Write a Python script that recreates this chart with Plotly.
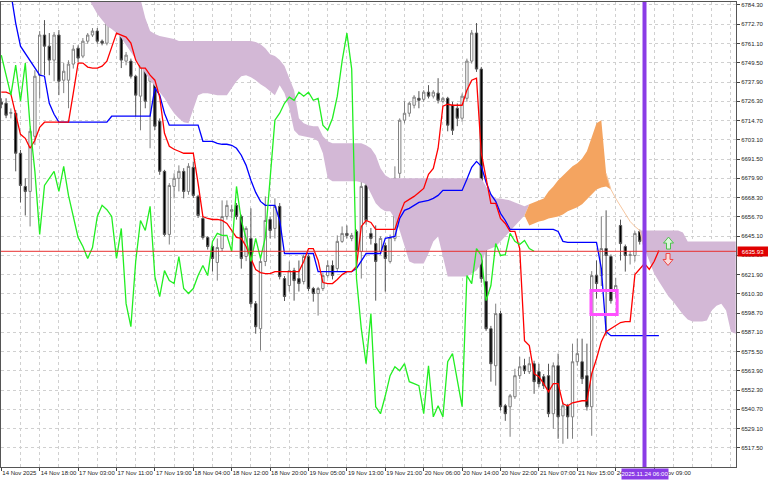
import plotly.graph_objects as go

# ---------------- data ----------------
bars = list(range(138))

opens = [6725.7, 6725.1, 6719.0, 6719.1, 6695.0, 6675.0, 6672.0, 6705.2, 6742.0, 6766.2,
         6759.5, 6751.1, 6766.2, 6739.0, 6739.0, 6748.7, 6758.3, 6753.5, 6762.5, 6766.2,
         6768.6, 6762.5, 6761.3, 6774.6, 6781.3, 6769.2, 6750.5, 6750.5, 6741.4, 6729.4,
         6745.0, 6738.4, 6749.3, 6714.3, 6684.1, 6646.1, 6675.0, 6679.9, 6684.1, 6672.0,
         6686.5, 6669.0, 6655.7, 6644.3, 6638.8, 6629.2, 6637.6, 6656.9, 6660.0, 6663.6,
         6656.9, 6632.8, 6643.7, 6604.4, 6589.3, 6629.8, 6655.1, 6649.7, 6663.0, 6619.5,
         6615.3, 6624.3, 6619.5, 6617.7, 6632.8, 6613.5, 6610.5, 6613.5, 6621.3, 6627.4,
         6625.6, 6641.9, 6646.7, 6643.7, 6647.9, 6635.8, 6675.6, 6646.7, 6640.6, 6635.8,
         6639.4, 6629.8, 6643.7, 6682.9, 6714.9, 6719.1, 6723.9, 6728.1, 6727.5, 6731.8,
         6729.4, 6731.2, 6726.3, 6728.1, 6723.9, 6722.1, 6716.1, 6728.1, 6750.5, 6767.4,
         6745.7, 6617.7, 6589.3, 6567.0, 6598.4, 6542.9, 6542.3, 6548.3, 6561.0, 6567.0,
         6563.4, 6568.2, 6563.4, 6560.4, 6561.0, 6538.1, 6567.0, 6536.8, 6542.9, 6536.2,
         6569.4, 6569.4, 6561.0, 6542.3, 6621.3, 6621.3, 6637.6, 6632.8, 6611.7, 6651.5,
         6638.8, 6633.4, 6633.4, 6647.9, 6641.9, 6633.4, 6642.5, 6637.0]

highs = [6728.1, 6728.1, 6722.0, 6721.0, 6697.0, 6679.9, 6710.0, 6745.0, 6768.6, 6775.2,
         6767.4, 6768.0, 6769.2, 6749.3, 6751.0, 6760.1, 6760.0, 6764.4, 6767.4, 6770.4,
         6770.4, 6763.5, 6776.0, 6783.7, 6784.0, 6770.0, 6756.0, 6752.0, 6742.0, 6755.3,
         6746.0, 6751.0, 6751.0, 6716.0, 6685.0, 6677.0, 6682.9, 6687.7, 6686.0, 6689.0,
         6690.0, 6670.0, 6657.0, 6645.0, 6640.0, 6643.7, 6666.6, 6666.6, 6664.0, 6665.0,
         6658.0, 6651.0, 6661.8, 6606.0, 6632.0, 6669.0, 6657.0, 6667.8, 6665.0, 6621.0,
         6629.8, 6626.0, 6630.4, 6634.0, 6634.0, 6614.5, 6614.5, 6623.0, 6630.4, 6630.4,
         6645.5, 6650.9, 6651.5, 6647.0, 6649.0, 6691.9, 6691.9, 6650.0, 6651.5, 6645.0,
         6641.0, 6646.0, 6687.1, 6716.0, 6726.3, 6726.0, 6730.0, 6732.4, 6733.0, 6736.0,
         6733.0, 6740.2, 6729.0, 6729.0, 6726.0, 6725.0, 6731.0, 6752.0, 6769.2, 6773.4,
         6747.0, 6640.6, 6591.0, 6604.4, 6600.0, 6544.0, 6550.0, 6565.2, 6572.4, 6571.2,
         6572.4, 6570.0, 6568.2, 6562.0, 6568.2, 6569.0, 6574.3, 6545.0, 6544.0, 6580.3,
         6583.3, 6583.3, 6580.3, 6624.0, 6630.4, 6656.9, 6660.6, 6634.0, 6620.0, 6655.0,
         6640.0, 6636.0, 6648.0, 6649.0, 6644.0, 6644.9, 6644.0, 6638.5]

lows = [6722.1, 6716.1, 6716.0, 6684.1, 6665.4, 6657.5, 6650.9, 6700.0, 6728.1, 6742.0,
        6742.0, 6738.4, 6730.0, 6731.2, 6722.1, 6746.0, 6749.9, 6752.3, 6761.0, 6765.0,
        6761.0, 6760.0, 6760.0, 6773.0, 6768.0, 6746.3, 6748.0, 6740.0, 6717.3, 6708.8,
        6722.1, 6698.0, 6709.0, 6682.0, 6645.0, 6640.0, 6667.8, 6672.0, 6667.8, 6670.0,
        6668.0, 6656.0, 6643.0, 6637.0, 6623.7, 6618.3, 6636.0, 6655.0, 6656.0, 6655.0,
        6625.5, 6630.0, 6602.0, 6586.3, 6576.1, 6627.0, 6643.7, 6643.7, 6619.0, 6606.0,
        6611.7, 6606.2, 6611.7, 6616.0, 6612.0, 6605.6, 6597.2, 6612.0, 6620.0, 6619.0,
        6624.0, 6641.0, 6643.7, 6642.0, 6628.6, 6619.5, 6652.0, 6640.0, 6606.2, 6634.0,
        6611.7, 6628.6, 6642.0, 6680.0, 6713.0, 6717.0, 6722.0, 6722.1, 6726.0, 6728.0,
        6728.0, 6725.0, 6725.0, 6708.2, 6706.0, 6711.3, 6714.0, 6726.0, 6749.0, 6744.0,
        6617.0, 6588.0, 6557.4, 6555.0, 6540.0, 6533.8, 6524.2, 6547.0, 6559.0, 6562.0,
        6562.0, 6550.1, 6554.0, 6553.0, 6536.0, 6529.0, 6523.0, 6520.0, 6523.0, 6523.0,
        6567.0, 6556.0, 6540.0, 6524.8, 6607.5, 6615.0, 6585.1, 6604.4, 6608.0, 6630.4,
        6623.7, 6628.0, 6629.8, 6640.0, 6636.0, 6632.0, 6636.0, 6635.0]

closes = [6724.5, 6717.9, 6719.5, 6695.0, 6675.6, 6672.0, 6708.2, 6741.4, 6766.2, 6759.5,
          6751.1, 6766.2, 6738.4, 6744.4, 6748.7, 6757.7, 6752.3, 6762.5, 6766.2, 6768.6,
          6762.5, 6761.3, 6774.6, 6780.7, 6769.2, 6751.1, 6754.1, 6741.4, 6730.0, 6748.1,
          6726.3, 6749.3, 6711.3, 6684.1, 6646.1, 6675.6, 6679.9, 6684.1, 6672.0, 6687.1,
          6669.6, 6657.5, 6644.3, 6638.8, 6631.6, 6638.2, 6656.9, 6663.6, 6661.0, 6656.9,
          6631.6, 6649.7, 6604.4, 6590.5, 6629.8, 6654.5, 6648.5, 6663.0, 6620.7, 6608.7,
          6624.3, 6618.3, 6616.5, 6632.8, 6613.5, 6610.5, 6613.5, 6621.3, 6627.4, 6621.3,
          6641.9, 6646.7, 6645.5, 6645.5, 6635.8, 6675.0, 6654.5, 6643.7, 6629.8, 6643.7,
          6631.6, 6644.3, 6679.9, 6714.9, 6719.1, 6725.1, 6728.8, 6726.9, 6731.8, 6729.4,
          6731.8, 6726.9, 6728.1, 6711.9, 6708.8, 6716.1, 6729.4, 6750.5, 6767.4, 6745.7,
          6619.5, 6589.3, 6568.2, 6598.4, 6542.3, 6538.1, 6548.9, 6561.0, 6566.4, 6564.0,
          6568.2, 6557.4, 6556.2, 6555.0, 6538.1, 6567.0, 6536.2, 6542.9, 6536.2, 6569.4,
          6574.3, 6559.2, 6542.3, 6621.3, 6616.5, 6637.6, 6633.4, 6606.2, 6615.3, 6640.6,
          6633.4, 6633.9, 6646.7, 6641.9, 6640.0, 6642.5, 6637.6, 6635.93]

tenkan = [6731.8, 6731.8, 6730.6, 6718.5, 6706.4, 6704.0, 6698.0, 6702.8, 6710.6, 6713.7,
          6713.7, 6713.7, 6713.7, 6713.7, 6713.7, 6731.2, 6749.3, 6749.3, 6746.9, 6746.3,
          6746.3, 6747.5, 6750.5, 6758.9, 6767.4, 6766.2, 6765.0, 6761.3, 6751.1, 6746.3,
          6746.3, 6742.0, 6739.0, 6728.8, 6707.0, 6699.2, 6697.4, 6696.2, 6695.0, 6695.0,
          6695.0, 6676.9, 6656.9, 6655.7, 6655.1, 6655.1, 6654.5, 6652.7, 6648.5, 6644.3,
          6643.7, 6638.8, 6631.6, 6625.0, 6623.1, 6622.5, 6622.5, 6623.7, 6623.7, 6623.7,
          6623.7, 6623.7, 6623.7, 6629.8, 6637.6, 6637.6, 6630.4, 6617.1, 6616.5, 6616.5,
          6618.9, 6621.9, 6623.7, 6623.7, 6626.8, 6650.9, 6654.5, 6653.3, 6649.1, 6649.1,
          6649.1, 6649.1, 6649.1, 6658.1, 6665.4, 6667.2, 6669.0, 6671.4, 6673.8, 6682.3,
          6685.9, 6698.0, 6723.3, 6724.5, 6723.9, 6723.9, 6723.9, 6733.0, 6739.0, 6740.2,
          6695.0, 6679.9, 6664.8, 6664.8, 6655.7, 6652.7, 6647.9, 6647.9, 6637.6, 6582.1,
          6579.1, 6562.2, 6560.4, 6556.2, 6551.3, 6556.2, 6556.2, 6544.1, 6542.9, 6544.7,
          6545.3, 6545.9, 6545.9, 6562.2, 6571.2, 6581.5, 6587.5, 6589.3, 6591.2, 6593.0,
          6593.6, 6593.6, 6621.9, 6625.0, 6628.6, 6625.0, 6629.8, 6636.4]

kijun = [6824.7, 6809.6, 6791.5, 6773.4, 6759.5, 6755.3, 6751.1, 6746.3, 6742.0, 6741.4,
         6725.1, 6718.5, 6713.7, 6713.7, 6713.7, 6713.7, 6713.7, 6713.7, 6713.7, 6713.7,
         6713.7, 6713.7, 6713.7, 6717.3, 6717.3, 6717.3, 6717.3, 6717.3, 6717.3, 6717.3,
         6717.3, 6717.3, 6734.2, 6730.0, 6719.1, 6711.9, 6711.9, 6711.9, 6711.9, 6711.9,
         6711.9, 6711.9, 6702.2, 6702.2, 6702.2, 6701.0, 6700.4, 6700.4, 6699.8, 6698.0,
         6693.8, 6687.7, 6678.7, 6671.4, 6666.0, 6663.6, 6663.6, 6663.6, 6654.5, 6634.6,
         6634.6, 6634.6, 6634.6, 6634.6, 6634.6, 6634.6, 6623.7, 6623.7, 6623.7, 6623.7,
         6623.7, 6623.7, 6623.7, 6623.7, 6625.6, 6630.4, 6634.6, 6634.6, 6634.6, 6634.6,
         6643.7, 6644.3, 6644.9, 6655.7, 6660.6, 6661.8, 6663.6, 6665.4, 6666.0, 6666.6,
         6667.8, 6669.6, 6672.6, 6672.6, 6672.6, 6672.6, 6672.6, 6679.3, 6686.5, 6690.1,
         6687.1, 6677.5, 6670.2, 6666.0, 6658.8, 6654.5, 6649.1, 6649.1, 6649.1, 6649.1,
         6649.1, 6649.1, 6649.1, 6649.1, 6649.1, 6649.1, 6647.9, 6641.9, 6641.3, 6641.3,
         6641.3, 6641.3, 6641.3, 6641.3, 6641.3, 6625.6, 6587.5, 6585.1, 6585.1, 6585.1,
         6585.1, 6585.1, 6585.1, 6585.1, 6585.1, 6585.1, 6585.1, 6585.1]

chikou_shift = 26

cloud_bars = list(range(18, 154))
span_a = [6789.1, 6784.3, 6778.8, 6775.2, 6771.6, 6769.8, 6767.4, 6764.4, 6760.1, 6755.3,
          6751.1, 6747.5, 6743.2, 6739.0, 6735.4, 6731.8, 6728.1, 6723.3, 6719.1, 6716.1,
          6713.7, 6713.1, 6722.1, 6730.0, 6731.2, 6731.2, 6730.6, 6730.0, 6730.0, 6730.0,
          6734.2, 6738.4, 6741.4, 6742.0, 6740.8, 6739.0, 6736.6, 6734.8, 6732.4, 6730.0,
          6736.0, 6731.2, 6722.1, 6708.8, 6705.8, 6705.2, 6704.6, 6704.0, 6702.2, 6695.0,
          6679.9, 6678.1, 6678.1, 6678.1, 6678.1, 6678.1, 6678.1, 6677.5, 6676.3, 6670.8,
          6664.8, 6661.8, 6660.0, 6660.0, 6655.7, 6648.5, 6638.8, 6629.8, 6628.6, 6628.6,
          6628.6, 6634.6, 6641.9, 6644.9, 6632.8, 6620.7, 6620.7, 6620.7, 6620.7, 6620.7,
          6622.5, 6624.3, 6628.6, 6636.4, 6637.6, 6638.8, 6641.9, 6644.9, 6647.9, 6650.9,
          6653.9, 6657.5, 6664.2, 6665.4, 6666.6, 6667.8, 6672.0, 6675.0, 6678.7, 6681.7,
          6684.7, 6687.1, 6688.9, 6691.9, 6696.2, 6705.2, 6713.1, 6714.9, 6682.9, 6673.2,
          6667.8, 6663.0, 6658.1, 6653.9, 6650.9, 6648.5, 6637.6, 6630.4, 6622.5, 6617.7,
          6613.5, 6608.7, 6605.6, 6601.4, 6597.8, 6594.8, 6593.6, 6593.6, 6593.6, 6594.2,
          6600.2, 6603.2, 6604.4, 6600.2, 6587.5, 6586.3]
span_b = [6797.6, 6797.6, 6797.6, 6797.6, 6797.6, 6797.6, 6797.6, 6797.6, 6797.6, 6797.6,
          6797.6, 6787.9, 6776.4, 6768.6, 6766.8, 6765.6, 6765.0, 6764.4, 6763.8, 6762.6,
          6762.6, 6762.6, 6762.6, 6762.6, 6762.6, 6762.6, 6762.6, 6762.6, 6762.6, 6762.6,
          6762.6, 6762.6, 6762.6, 6762.6, 6762.6, 6762.0, 6760.7, 6758.3, 6754.7, 6753.5,
          6751.1, 6747.5, 6740.2, 6733.0, 6716.1, 6713.1, 6711.9, 6711.3, 6711.3, 6705.2,
          6702.2, 6701.0, 6701.0, 6701.0, 6701.0, 6701.0, 6701.0, 6701.0, 6699.8, 6698.0,
          6693.8, 6685.9, 6681.7, 6679.9, 6679.9, 6679.9, 6679.9, 6679.9, 6679.9, 6679.9,
          6679.9, 6679.9, 6679.9, 6679.9, 6679.9, 6679.9, 6679.9, 6679.9, 6679.9, 6679.9,
          6679.9, 6679.9, 6679.9, 6675.0, 6670.2, 6667.8, 6667.8, 6667.2, 6666.6, 6665.4,
          6664.2, 6663.0, 6651.5, 6652.7, 6653.9, 6654.5, 6655.7, 6656.3, 6656.9, 6658.1,
          6660.0, 6661.2, 6662.4, 6664.2, 6667.2, 6669.6, 6673.2, 6674.4, 6675.0, 6673.2,
          6667.8, 6663.0, 6658.1, 6653.9, 6650.9, 6648.5, 6648.5, 6648.5, 6648.5, 6648.5,
          6648.5, 6648.5, 6648.5, 6648.5, 6647.3, 6641.9, 6641.9, 6641.9, 6641.9, 6641.9,
          6641.9, 6641.9, 6641.9, 6641.9, 6641.9, 6641.9]

x_tick_bars = [0, 8, 16, 24, 32, 40, 48, 56, 64, 72, 80, 88, 96, 104, 112, 120, 128, 136]
x_tick_labels = ["14 Nov 2025", "14 Nov 18:00", "17 Nov 03:00", "17 Nov 11:00", "17 Nov 19:00",
                 "18 Nov 04:00", "18 Nov 12:00", "18 Nov 20:00", "19 Nov 05:00", "19 Nov 13:00",
                 "19 Nov 21:00", "20 Nov 06:00", "20 Nov 14:00", "20 Nov 22:00", "21 Nov 07:00",
                 "21 Nov 15:00", "24 Nov 01:00", "24 Nov 09:00"]
y_tick_values = [6517.5, 6529.1, 6540.7, 6552.3, 6563.9, 6575.5, 6587.1, 6598.7, 6610.3, 6621.9,
                 6633.5, 6645.1, 6656.7, 6668.3, 6679.9, 6691.5, 6703.1, 6714.7, 6726.3, 6737.9,
                 6749.5, 6761.1, 6772.7, 6784.3]
last_price = 6635.93
marker_bar = 134
marker_label = "2025.11.24 06:00"

# ---------------- positions / styles ----------------
X_RANGE = [-0.06, 153.06]
Y_RANGE = [6506.0, 6786.1]
BOX = dict(x0=122.85, x1=128.3, y0=6597.8, y1=6612.3)
UP_ARROW = (139.0, 6640.9)
DOWN_ARROW = (138.9, 6631.0)
GRID = "#d0d0d0"
FONT = "Liberation Sans"

fig = go.Figure()

# cloud
upper_purple = [max(a, b) for a, b in zip(span_a, span_b)]
lower_orange = [min(a, b) for a, b in zip(span_a, span_b)]
fig.add_trace(go.Scatter(x=cloud_bars, y=span_a, mode="lines", line=dict(width=0), hoverinfo="skip"))
fig.add_trace(go.Scatter(x=cloud_bars, y=upper_purple, mode="lines", line=dict(width=0),
                         fill="tonexty", fillcolor="#d3b8d6", hoverinfo="skip"))
fig.add_trace(go.Scatter(x=cloud_bars, y=span_a, mode="lines", line=dict(width=0), hoverinfo="skip"))
fig.add_trace(go.Scatter(x=cloud_bars, y=lower_orange, mode="lines", line=dict(width=0),
                         fill="tonexty", fillcolor="#f4a460", hoverinfo="skip"))
i0, i1 = 126 - cloud_bars[0], 135 - cloud_bars[0]
fig.add_trace(go.Scatter(x=cloud_bars[i0:i1], y=span_a[i0:i1], mode="lines",
                         line=dict(color="#f7c7a0", width=1), hoverinfo="skip"))

# candles
fig.add_trace(go.Candlestick(
    x=bars, open=opens, high=highs, low=lows, close=closes,
    increasing=dict(fillcolor="#ffffff", line=dict(color="#808080", width=1)),
    decreasing=dict(fillcolor="#000000", line=dict(color="#555555", width=1)),
    whiskerwidth=0, hoverinfo="skip"))

# ichimoku lines
fig.add_trace(go.Scatter(x=bars, y=kijun, mode="lines", line=dict(color="#0000ff", width=1.3), hoverinfo="skip"))
fig.add_trace(go.Scatter(x=bars, y=tenkan, mode="lines", line=dict(color="#ff0000", width=1.3), hoverinfo="skip"))
fig.add_trace(go.Scatter(x=bars[:len(bars) - chikou_shift], y=closes[chikou_shift:], mode="lines",
                         line=dict(color="#22ee22", width=1.3), hoverinfo="skip"))

shapes = [
    dict(type="line", xref="paper", x0=0, x1=1, yref="y", y0=last_price, y1=last_price,
         line=dict(color="#e83030", width=1), layer="above"),
    dict(type="line", xref="x", x0=marker_bar, x1=marker_bar, yref="paper", y0=0, y1=1,
         line=dict(color="#8b3ce6", width=4), layer="above"),
    dict(type="rect", xref="x", yref="y", **BOX, line=dict(color="#ff50ff", width=3), layer="above"),
    dict(type="path", xref="x", yref="y", xsizemode="pixel", ysizemode="pixel",
         xanchor=UP_ARROW[0], yanchor=UP_ARROW[1],
         path="M 0 6 L 5 0 L 2 0 L 2 -6 L -2 -6 L -2 0 L -5 0 Z",
         line=dict(color="#4cc24c", width=1), fillcolor="#dcf5dc", layer="above"),
    dict(type="path", xref="x", yref="y", xsizemode="pixel", ysizemode="pixel",
         xanchor=DOWN_ARROW[0], yanchor=DOWN_ARROW[1],
         path="M 0 -6 L 5 0 L 2 0 L 2 6 L -2 6 L -2 0 L -5 0 Z",
         line=dict(color="#ee4444", width=1), fillcolor="#fbdada", layer="above"),
]

annotations = [
    dict(x=1, xref="paper", xanchor="left", y=last_price, yref="y", text=f"{last_price:.2f}",
         showarrow=False, bgcolor="#e00000", font=dict(color="white", size=6, family=FONT),
         width=30, height=9, borderpad=0, xshift=1),
    dict(x=marker_bar, xref="x", y=0, yref="paper", yanchor="top", text=marker_label,
         showarrow=False, bgcolor="#8b3ce6", font=dict(color="white", size=6, family=FONT),
         width=46, height=10, borderpad=0, yshift=-1),
]

fig.update_layout(
    width=768, height=480,
    margin=dict(l=1, r=32, t=2, b=13, autoexpand=False),
    paper_bgcolor="white", plot_bgcolor="white",
    showlegend=False, hovermode=False,
    shapes=shapes, annotations=annotations,
    font=dict(family=FONT, size=6, color="#222222"),
    xaxis=dict(
        range=X_RANGE, tickmode="array", tickvals=x_tick_bars, ticktext=x_tick_labels,
        tickangle=0, automargin=False,
        ticks="outside", ticklen=3, tickcolor="#444444", ticklabelposition="outside right",
        tickfont=dict(size=6, family=FONT, color="#222222"),
        showline=True, linecolor="#555555", linewidth=1, mirror=True,
        showgrid=True, gridcolor=GRID, griddash="dot", gridwidth=1, zeroline=False,
        minor=dict(tickmode="array", tickvals=list(range(0, 154, 4)), showgrid=True,
                   gridcolor=GRID, griddash="dot", ticks=""),
        rangeslider=dict(visible=False),
    ),
    yaxis=dict(
        range=Y_RANGE, side="right", tickmode="array", tickvals=y_tick_values,
        ticktext=[f"{v:.2f}" for v in y_tick_values], automargin=False,
        ticks="outside", ticklen=3, tickcolor="#444444",
        tickfont=dict(size=6, family=FONT, color="#222222"),
        showline=True, linecolor="#555555", linewidth=1, mirror=True,
        showgrid=True, gridcolor=GRID, griddash="dot", gridwidth=1, zeroline=False,
    ),
)

fig.write_html("out.html", config={"displayModeBar": False},
               post_script="document.body.style.margin='0px';document.body.style.overflow='hidden';")
